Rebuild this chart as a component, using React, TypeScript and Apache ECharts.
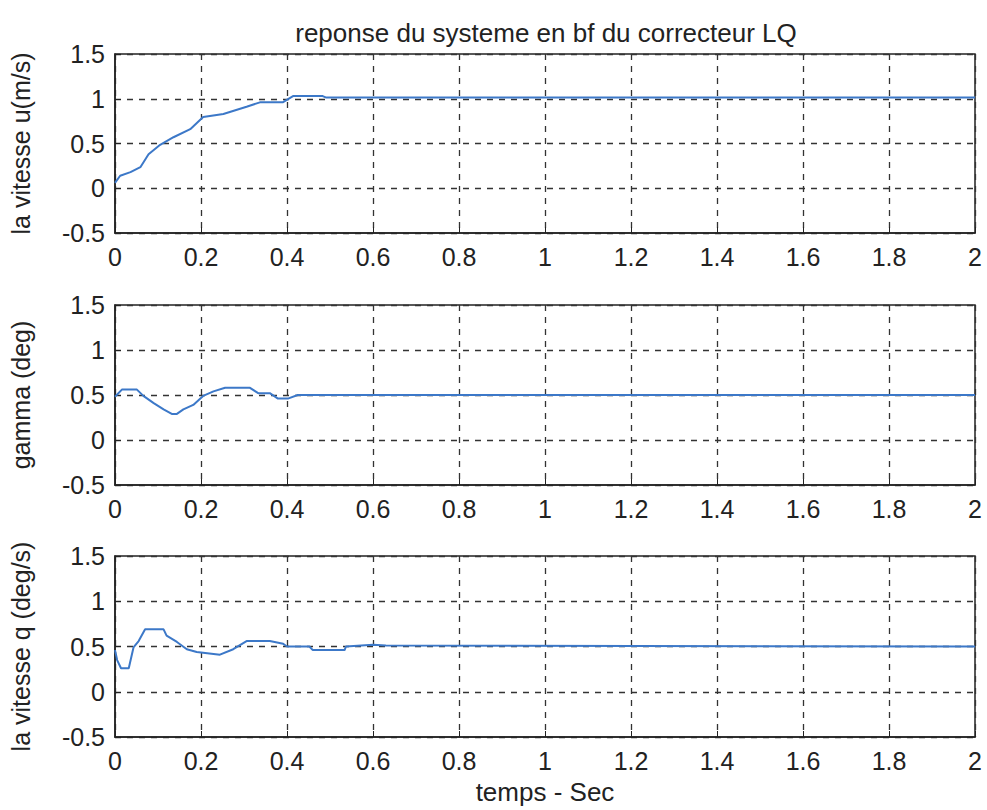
import React, { useEffect, useRef } from "react";
import * as echarts from "echarts";

const title = "reponse du systeme en bf du correcteur LQ";
const xName = "temps - Sec";
const yNames = ["la vitesse u(m/s)", "gamma (deg)", "la vitesse q (deg/s)"];

const uTime = [0, 0.012, 0.036, 0.059, 0.078, 0.105, 0.136, 0.175, 0.205, 0.252, 0.306, 0.337, 0.39, 0.414, 0.483, 0.49, 2];
const uValue = [0.06, 0.14, 0.18, 0.235, 0.38, 0.485, 0.57, 0.66, 0.795, 0.83, 0.91, 0.96, 0.96, 1.03, 1.03, 1.015, 1.015];

const gTime = [0, 0.016, 0.051, 0.066, 0.09, 0.113, 0.132, 0.144, 0.159, 0.182, 0.205, 0.229, 0.256, 0.314, 0.333, 0.36, 0.379, 0.402, 0.425, 2];
const gValue = [0.48, 0.56, 0.56, 0.49, 0.41, 0.34, 0.29, 0.29, 0.34, 0.39, 0.49, 0.54, 0.58, 0.58, 0.52, 0.52, 0.46, 0.46, 0.5, 0.5];

const qTime = [0, 0.005, 0.014, 0.032, 0.043, 0.055, 0.07, 0.113, 0.12, 0.144, 0.167, 0.19, 0.244, 0.275, 0.306, 0.36, 0.391, 0.4, 0.452, 0.46, 0.534, 0.537, 0.6, 0.63, 2];
const qValue = [0.46, 0.35, 0.26, 0.26, 0.49, 0.56, 0.69, 0.69, 0.62, 0.55, 0.47, 0.44, 0.41, 0.47, 0.56, 0.56, 0.53, 0.5, 0.5, 0.46, 0.46, 0.5, 0.52, 0.51, 0.5];

const grids = [
  { top: 54, height: 179 },
  { top: 305, height: 180 },
  { top: 556, height: 181 },
];

const FONT = "'Liberation Sans', Arial, sans-serif";
const INK = "#222";
const LINE = "#3c78c8";

export default function App() {
  const ref = useRef<HTMLDivElement>(null);
  useEffect(() => {
    if (!ref.current) return;
    const chart = echarts.init(ref.current, null, { renderer: "svg" });
    const pairs = [
      uTime.map((t, i) => [t, uValue[i]]),
      gTime.map((t, i) => [t, gValue[i]]),
      qTime.map((t, i) => [t, qValue[i]]),
    ];
    const gridLine = { show: true, lineStyle: { color: "#333", type: [6, 6], width: 1.3 } };
    chart.setOption({
      animation: false,
      backgroundColor: "#fff",
      title: {
        text: title,
        left: 541,
        top: 15,
        textAlign: "center",
        textStyle: { fontFamily: FONT, fontSize: 26, fontWeight: "normal", color: INK },
      },
      grid: grids.map((g) => ({
        left: 108,
        right: 12,
        top: g.top,
        height: g.height,
        show: true,
        borderColor: "#222",
        borderWidth: 1.5,
        backgroundColor: "transparent",
      })),
      xAxis: grids.map((_, i) => ({
        type: "value",
        gridIndex: i,
        min: 0,
        max: 2,
        interval: 0.2,
        name: i === 2 ? xName : "",
        nameLocation: "middle",
        nameGap: 42,
        nameTextStyle: { fontFamily: FONT, fontSize: 26, color: INK },
        axisLine: { show: true, onZero: false, lineStyle: { color: "#222", width: 1.5 } },
        axisTick: { show: true, inside: true, length: 6, lineStyle: { color: "#222" } },
        axisLabel: {
          fontFamily: FONT,
          fontSize: 25,
          color: INK,
          margin: 11,
          formatter: (v: number) => String(Math.round(v * 10) / 10),
        },
        splitLine: gridLine,
      })),
      yAxis: grids.map((_, i) => ({
        type: "value",
        gridIndex: i,
        min: -0.5,
        max: 1.5,
        interval: 0.5,
        name: yNames[i],
        nameLocation: "middle",
        nameGap: 82,
        nameTextStyle: { fontFamily: FONT, fontSize: 25, color: INK },
        axisLine: { show: true, onZero: false, lineStyle: { color: "#222", width: 1.5 } },
        axisTick: { show: true, inside: true, length: 6, lineStyle: { color: "#222" } },
        axisLabel: { fontFamily: FONT, fontSize: 25, color: INK, margin: 10 },
        splitLine: gridLine,
      })),
      series: pairs.map((d, i) => ({
        type: "line",
        xAxisIndex: i,
        yAxisIndex: i,
        data: d,
        showSymbol: false,
        lineStyle: { color: LINE, width: 2 },
      })),
    });
    return () => chart.dispose();
  }, []);
  return (
    <div
      ref={ref}
      style={{ position: "fixed", left: 0, top: 0, width: 987, height: 810, background: "#fff" }}
    />
  );
}
